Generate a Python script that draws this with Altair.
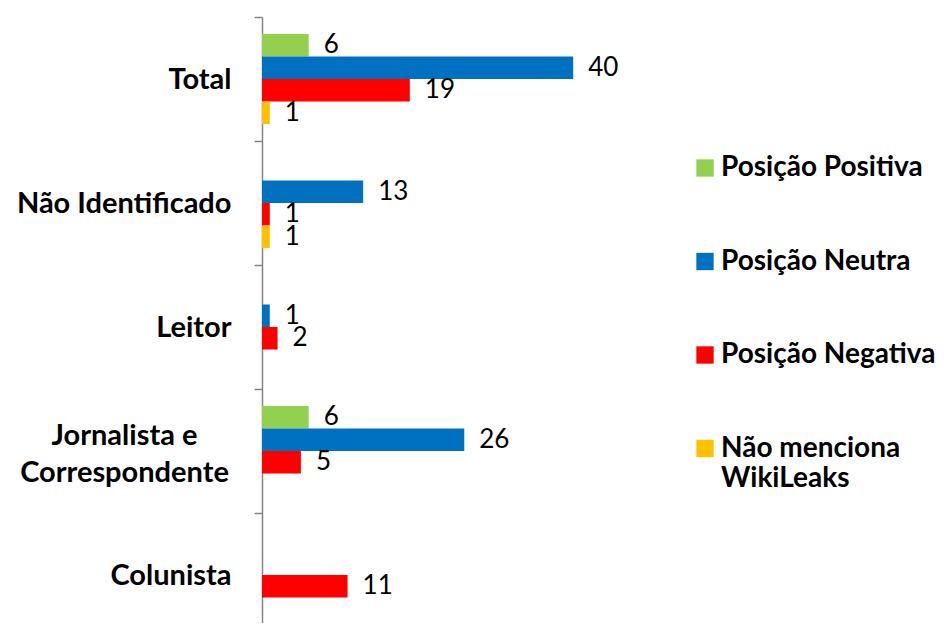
import altair as alt
import pandas as pd

categories = ["Total", "Não Identificado", "Leitor", "Jornalista e Correspondente", "Colunista"]
series = ["Posição Positiva", "Posição Neutra", "Posição Negativa", "Não menciona WikiLeaks"]
positiva = [6, 0, 0, 6, 0]
neutra = [40, 13, 1, 26, 0]
negativa = [19, 1, 2, 5, 11]
nao_menciona = [1, 1, 0, 0, 0]
colors = ["#92D050", "#0070C0", "#FF0000", "#FFC000"]

rows = []
for s, vals in zip(series, [positiva, neutra, negativa, nao_menciona]):
    for c, v in zip(categories, vals):
        rows.append({"cat": c, "series": s, "value": v})
df = pd.DataFrame(rows)
df = df[df["value"] > 0]

FONT = "Lato"
JC = "datum.value == 'Jornalista e Correspondente'"

base = alt.Chart(df).encode(
    y=alt.Y(
        "cat:N",
        sort=categories,
        title=None,
        scale=alt.Scale(range=[0, 620], paddingInner=0, paddingOuter=0),
        axis=alt.Axis(
            domainColor="#868686",
            domainWidth=1.5,
            tickColor="#868686",
            tickWidth=1.5,
            tickSize=8,
            tickBand="extent",
            labelFont=FONT,
            labelFontWeight="bold",
            labelFontSize=29,
            labelColor="black",
            labelLineHeight=37,
            labelAlign=alt.condition(JC, alt.value("center"), alt.value("right")),
            labelPadding=alt.condition(JC, alt.value(130), alt.value(23)),
            labelOffset=alt.condition(JC, alt.value(-16), alt.value(0)),
            labelExpr="datum.value == 'Jornalista e Correspondente' ? ['Jornalista e', 'Correspondente'] : datum.value",
            labelLimit=400,
        ),
    ),
    yOffset=alt.YOffset(
        "series:N",
        sort=series,
        scale=alt.Scale(paddingOuter=0.7556, paddingInner=0),
    ),
    x=alt.X("value:Q", scale=alt.Scale(domain=[0, 50]), axis=None),
)

bars = base.mark_bar().encode(
    color=alt.Color(
        "series:N",
        sort=series,
        scale=alt.Scale(domain=series, range=colors),
        legend=alt.Legend(
            title=None,
            orient="none",
            legendX=429,
            legendY=137,
            padding=0,
            symbolType="square",
            symbolSize=300,
            symbolStrokeWidth=0,
            labelFont=FONT,
            labelFontWeight="bold",
            labelFontSize=28,
            labelColor="black",
            labelOffset=2,
            rowPadding=65.5,
            labelLimit=400,
            labelExpr="datum.label == 'Não menciona WikiLeaks' ? ['Não menciona', 'WikiLeaks'] : datum.label",
        ),
    )
)

labels = base.mark_text(align="left", baseline="middle", dx=15, font=FONT, fontSize=26, color="black").encode(
    text="value:Q"
)

chart = (
    alt.layer(bars, labels)
    .properties(
        width=389,
        height=606,
        autosize=alt.AutoSizeParams(type="none"),
        padding={"left": 254, "top": 9, "right": 292, "bottom": 0},
    )
    .configure_view(stroke=None)
)

chart.save("out.html", embed_options={"renderer": "svg", "actions": False})
